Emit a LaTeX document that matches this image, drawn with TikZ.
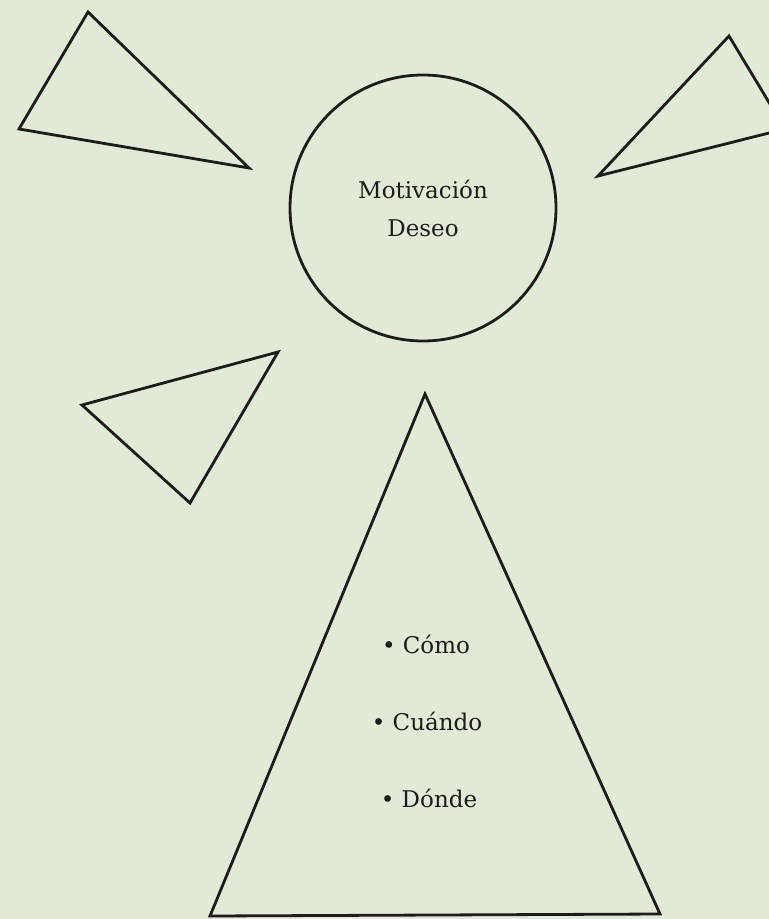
\documentclass[tikz,border=0pt]{standalone}
\usepackage{fontspec}
\setmainfont{DejaVu Serif}
\usepackage{tikz}
\usetikzlibrary{positioning}
\definecolor{paper}{RGB}{225,233,215}
\definecolor{ink}{RGB}{28,28,24}

\begin{document}
\begin{tikzpicture}[x=0.5pt, y=-0.5pt, line width=1.4pt,
    lbl/.style={font=\fontsize{11.5}{19}\selectfont, text=ink, inner sep=0pt}]
    \useasboundingbox (0,0) rectangle (769,919);
    \fill[paper] (0,0) rectangle (769,919);
    \clip (0,0) rectangle (769,919);

    % centre
    \node[circle, draw=ink, minimum size=133pt, lbl, align=center] (deseo) at (423,208) {Motivación\\Deseo};

    % small triangles
    \draw[ink] (88,12) -- (19,129) -- (249,168) -- cycle;
    \draw[ink] (729,36) -- (785,129) -- (598,176) -- cycle;
    \draw[ink] (82,405) -- (278,352) -- (190,503) -- cycle;

    % big triangle
    \coordinate (apex) at (425,394);
    \coordinate (bl) at (210,916);
    \coordinate (br) at (660,914);
    \draw[ink] (apex) -- (br) -- (bl) -- cycle;

    \node[lbl, anchor=base] (como) at (426,653) {\textbullet\ Cómo};
    \node[lbl, anchor=base] (cuando) at (427,730) {\textbullet\ Cuándo};
    \node[lbl, anchor=base] (donde) at (429,807) {\textbullet\ Dónde};
\end{tikzpicture}
\end{document}
